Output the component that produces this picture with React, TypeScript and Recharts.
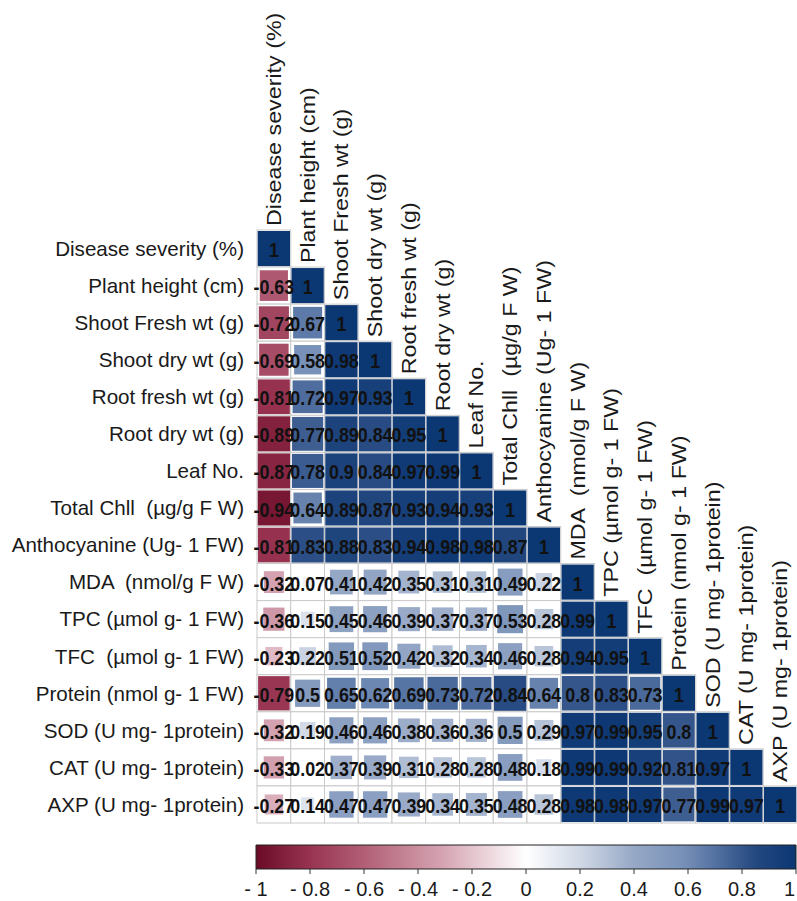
import React from 'react';
import {
  ScatterChart,
  Scatter,
  XAxis,
  YAxis,
  ComposedChart,
  ReferenceArea,
} from 'recharts';

// variable names, same order for rows and columns
const LABELS = [
  'Disease severity (%)',
  'Plant height (cm)',
  'Shoot Fresh wt (g)',
  'Shoot dry wt (g)',
  'Root fresh wt (g)',
  'Root dry wt (g)',
  'Leaf No.',
  'Total Chll \u00a0(µg/g F W)',
  'Anthocyanine (Ug- 1 FW)',
  'MDA \u00a0(nmol/g F W)',
  'TPC (µmol g- 1 FW)',
  'TFC \u00a0(µmol g- 1 FW)',
  'Protein (nmol g- 1 FW)',
  'SOD (U mg- 1protein)',
  'CAT (U mg- 1protein)',
  'AXP (U mg- 1protein)',
];

// lower triangle of the correlation matrix, one row per variable
const rowDisease = [1];
const rowPlantHeight = [-0.63, 1];
const rowShootFresh = [-0.72, 0.67, 1];
const rowShootDry = [-0.69, 0.58, 0.98, 1];
const rowRootFresh = [-0.81, 0.72, 0.97, 0.93, 1];
const rowRootDry = [-0.89, 0.77, 0.89, 0.84, 0.95, 1];
const rowLeafNo = [-0.87, 0.78, 0.9, 0.84, 0.97, 0.99, 1];
const rowChll = [-0.94, 0.64, 0.89, 0.87, 0.93, 0.94, 0.93, 1];
const rowAntho = [-0.81, 0.83, 0.88, 0.83, 0.94, 0.98, 0.98, 0.87, 1];
const rowMDA = [-0.32, 0.07, 0.41, 0.42, 0.35, 0.31, 0.31, 0.49, 0.22, 1];
const rowTPC = [-0.36, 0.15, 0.45, 0.46, 0.39, 0.37, 0.37, 0.53, 0.28, 0.99, 1];
const rowTFC = [-0.23, 0.22, 0.51, 0.52, 0.42, 0.32, 0.34, 0.46, 0.28, 0.94, 0.95, 1];
const rowProtein = [-0.79, 0.5, 0.65, 0.62, 0.69, 0.73, 0.72, 0.84, 0.64, 0.8, 0.83, 0.73, 1];
const rowSOD = [-0.32, 0.19, 0.46, 0.46, 0.38, 0.36, 0.36, 0.5, 0.29, 0.97, 0.99, 0.95, 0.8, 1];
const rowCAT = [-0.33, 0.02, 0.37, 0.39, 0.31, 0.28, 0.28, 0.48, 0.18, 0.99, 0.99, 0.92, 0.81, 0.97, 1];
const rowAXP = [-0.27, 0.14, 0.47, 0.47, 0.39, 0.34, 0.35, 0.48, 0.28, 0.98, 0.98, 0.97, 0.77, 0.99, 0.97, 1];

const ROWS = [
  rowDisease, rowPlantHeight, rowShootFresh, rowShootDry, rowRootFresh, rowRootDry,
  rowLeafNo, rowChll, rowAntho, rowMDA, rowTPC, rowTFC, rowProtein, rowSOD, rowCAT, rowAXP,
];

const COLORBAR_TICKS = [-1, -0.8, -0.6, -0.4, -0.2, 0, 0.2, 0.4, 0.6, 0.8, 1];

// colour ramp (value -> rgb)
const STOPS: [number, number[]][] = [
  [-1, [106, 10, 38]],
  [-0.8, [152, 52, 82]],
  [-0.6, [178, 95, 118]],
  [-0.3, [214, 166, 180]],
  [0, [255, 255, 255]],
  [0.2, [208, 216, 230]],
  [0.4, [150, 168, 198]],
  [0.58, [120, 145, 184]],
  [0.7, [84, 114, 162]],
  [0.85, [36, 72, 128]],
  [1, [11, 55, 115]],
];

const corrColor = (v: number) => {
  for (let k = 1; k < STOPS.length; k++) {
    const [v0, c0] = STOPS[k - 1];
    const [v1, c1] = STOPS[k];
    if (v <= v1) {
      const t = (v - v0) / (v1 - v0);
      const c = c0.map((a, i) => Math.round(a + (c1[i] - a) * t));
      return `rgb(${c[0]},${c[1]},${c[2]})`;
    }
  }
  return 'rgb(11,55,115)';
};

const fmt = (v: number) => String(Number(v.toFixed(2)));

const W = 797;
const PLOT_LEFT = 257;
const PLOT_TOP = 230;
const PLOT_BOTTOM = 823;
const N = LABELS.length;
const CELL_W = (W - PLOT_LEFT) / N;
const CELL_H = (PLOT_BOTTOM - PLOT_TOP) / N;

const points = ROWS.flatMap((row, i) => row.map((r, j) => ({ x: j, y: i, r })));
const colorbarData = [
  { v: -1, y: 0 },
  { v: 1, y: 1 },
];

const GridCell = (props: any) => {
  const { cx, cy } = props;
  return (
    <rect
      x={cx - CELL_W / 2}
      y={cy - CELL_H / 2}
      width={CELL_W}
      height={CELL_H}
      fill="#ffffff"
      stroke="#c9c9c9"
      strokeWidth={1}
    />
  );
};

const CorrSquare = (props: any) => {
  const { cx, cy, payload } = props;
  const s = Math.min(1, Math.sqrt(Math.abs(payload.r)) * 1.1);
  const w = (CELL_W - 1.5) * s;
  const h = (CELL_H - 2) * s;
  return <rect x={cx - w / 2} y={cy - h / 2} width={w} height={h} fill={corrColor(payload.r)} />;
};

const CellText = (props: any) => {
  const { cx, cy, payload } = props;
  const diag = payload.x === payload.y;
  return (
    <g>
      <text
        transform={`translate(${cx},${cy + 1}) scale(0.85,1)`}
        textAnchor="middle"
        dominantBaseline="central"
        fontSize={21}
        fontWeight="bold"
        fill="#111"
      >
        {fmt(payload.r)}
      </text>
      {diag && (
        <text
          transform={`translate(${cx},${cy - CELL_H / 2 - 4}) rotate(-90) scale(1.13,1)`}
          textAnchor="start"
          dominantBaseline="central"
          fontSize={20.6}
          fill="#1a1a1a"
        >
          {LABELS[payload.x]}
        </text>
      )}
    </g>
  );
};

const ColorbarTick = (props: any) => {
  const { x, y, payload } = props;
  const v = payload.value as number;
  const label = v < 0 ? `-\u00a0${Math.abs(v)}` : `${v}`;
  const last = v === 1;
  return (
    <text
      x={last ? x - 1 : x}
      y={y}
      dy="0.71em"
      textAnchor={last ? 'end' : 'middle'}
      fontSize={20}
      fill="#1a1a1a"
    >
      {label}
    </text>
  );
};

export default function App() {
  const rowTicks = LABELS.map((_, i) => i);
  return (
    <div
      style={{
        position: 'absolute',
        left: 0,
        top: 0,
        width: W,
        height: 901,
        background: '#fff',
        fontFamily: '"Liberation Sans", Arial, sans-serif',
      }}
    >
      <ScatterChart
        width={W}
        height={830}
        margin={{ top: PLOT_TOP, right: 0, bottom: 830 - PLOT_BOTTOM, left: 0 }}
        style={{ overflow: 'visible' }}
      >
        <XAxis type="number" dataKey="x" domain={[-0.5, N - 0.5]} hide />
        <YAxis
          type="number"
          dataKey="y"
          domain={[-0.5, N - 0.5]}
          reversed
          width={PLOT_LEFT}
          ticks={rowTicks}
          interval={0}
          tickFormatter={(i: number) => LABELS[i]}
          axisLine={false}
          tickLine={false}
          tickSize={0}
          tickMargin={13}
          tick={{ fill: '#1a1a1a', fontSize: 20.6 }}
        />
        <Scatter data={points} shape={GridCell} isAnimationActive={false} />
        <Scatter data={points} shape={CorrSquare} isAnimationActive={false} />
        <Scatter data={points} shape={CellText} isAnimationActive={false} />
      </ScatterChart>

      <div style={{ position: 'absolute', left: 0, top: 830 }}>
        <ComposedChart
          width={W}
          height={71}
          data={colorbarData}
          margin={{ top: 15, right: 1, bottom: 0, left: 256 }}
        >
          <defs>
            <linearGradient id="cbGrad" x1="0" y1="0" x2="1" y2="0">
              {STOPS.map(([v, c]) => (
                <stop
                  key={v}
                  offset={`${((v + 1) / 2) * 100}%`}
                  stopColor={`rgb(${c[0]},${c[1]},${c[2]})`}
                />
              ))}
            </linearGradient>
          </defs>
          <XAxis
            type="number"
            dataKey="v"
            domain={[-1, 1]}
            ticks={COLORBAR_TICKS}
            interval={0}
            height={32}
            axisLine={false}
            tickSize={5}
            tickMargin={8}
            tickLine={{ stroke: '#333' }}
            tick={<ColorbarTick />}
          />
          <YAxis type="number" dataKey="y" domain={[0, 1]} hide />
          <ReferenceArea
            x1={-1}
            x2={1}
            y1={0}
            y2={1}
            fill="url(#cbGrad)"
            fillOpacity={1}
            stroke="#222"
            strokeWidth={1}
            ifOverflow="visible"
          />
        </ComposedChart>
      </div>
    </div>
  );
}
